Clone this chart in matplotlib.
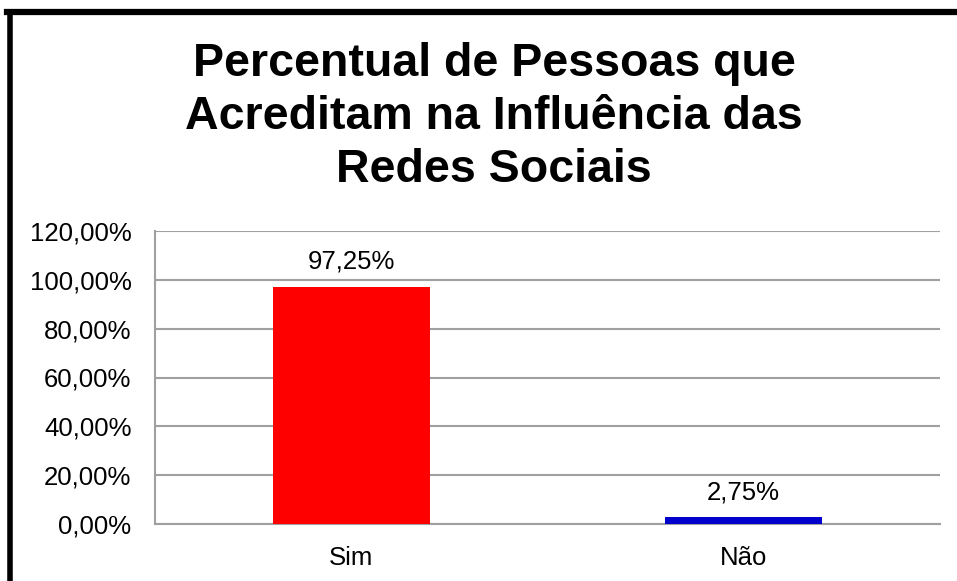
import matplotlib.pyplot as plt
from matplotlib.lines import Line2D
from matplotlib.ticker import FuncFormatter

categorias = ['Sim', 'Não']
percentuais = [0.9725, 0.0275]
cores = ['#FF0000', '#0000CC']
titulo = 'Percentual de Pessoas que\nAcreditam na Influência das\nRedes Sociais'

plt.rcParams['font.family'] = ['Liberation Sans', 'DejaVu Sans']

W, H = 957, 581
fig = plt.figure(figsize=(W / 100, H / 100), dpi=100)
ax = fig.add_axes([155 / W, 1 - 524 / H, (940 - 155) / W, (524 - 231) / H])

def fmt(v, pos=None):
    return ('%.2f%%' % (v * 100)).replace('.', ',')

x = range(len(categorias))
bars = ax.bar(x, percentuais, width=0.40, color=cores, zorder=3)
for b, v in zip(bars, percentuais):
    ax.annotate(fmt(v), (b.get_x() + b.get_width() / 2, v), xytext=(0, 9.5),
                textcoords='offset points', ha='center', va='bottom', fontsize=18.5)

ax.set_xlim(-0.5, 1.5)
ax.set_ylim(0, 1.2)
ax.set_yticks([0, 0.2, 0.4, 0.6, 0.8, 1.0, 1.2])
ax.yaxis.set_major_formatter(FuncFormatter(fmt))
ax.set_xticks(list(x))
ax.set_xticklabels(categorias)
ax.tick_params(axis='both', length=0, labelsize=18.5)
ax.tick_params(axis='y', pad=17)
ax.tick_params(axis='x', pad=16)
ax.grid(axis='y', color='#A0A0A0', linewidth=1.5, zorder=0)
for s in ['top', 'right']:
    ax.spines[s].set_visible(False)
for s in ['left', 'bottom']:
    ax.spines[s].set_color('#A0A0A0')
    ax.spines[s].set_linewidth(1.5)

fig.text(494 / W, 1 - 117 / H, titulo, ha='center', va='center', fontsize=33.5,
         fontweight='bold', linespacing=1.27)

# moldura (so aparecem o lado esquerdo e o topo)
fig.add_artist(Line2D([9.5 / W, 9.5 / W], [0, 1 - 12 / H], color='black', lw=4))
fig.add_artist(Line2D([7.5 / W, 1], [1 - 12 / H, 1 - 12 / H], color='black', lw=4.5))

fig.savefig('out.png', dpi=100)
